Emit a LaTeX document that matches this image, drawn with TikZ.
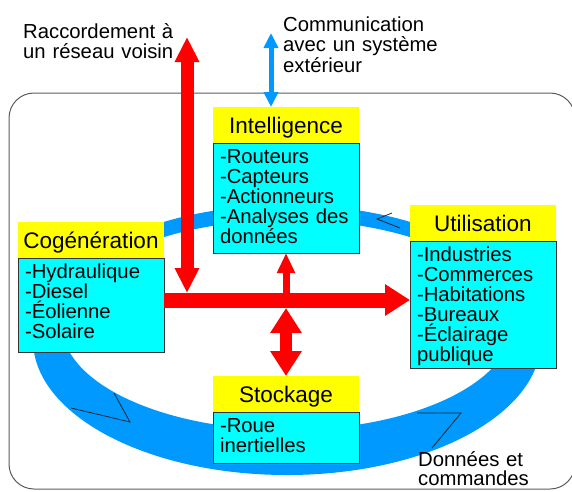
\documentclass[tikz,border=0pt]{standalone}
\usepackage{fontspec}
\setmainfont{Liberation Sans}
\usetikzlibrary{arrows.meta,positioning}
\definecolor{Jaune}{RGB}{255,255,0}
\definecolor{Turquoise}{RGB}{0,255,255}
\definecolor{Bleu}{RGB}{0,153,255}
\definecolor{Rouge}{RGB}{255,0,0}
\definecolor{Cadre}{RGB}{90,90,90}

\begin{document}
\begin{tikzpicture}[x=1pt,y=-1pt,
    titre/.style={fill=Jaune,minimum width=146pt,minimum height=36pt,inner sep=0pt,
      outer sep=0pt,text height=16pt,text depth=0pt,font=\fontsize{22.5}{24}\selectfont},
    liste/.style={fill=Turquoise,draw=black!80,line width=0.8pt,inner xsep=7pt,
      inner ysep=6pt,outer sep=0pt,text width=132pt,align=left,text height=14pt,
      font=\fontsize{20.3}{20}\selectfont},
    etiquette/.style={text width=180pt,align=left,inner sep=0pt,
      font=\fontsize{20.3}{20.5}\selectfont},
    fleche/.style={Rouge,line width=#1},
    marque/.style={black!85,line width=0.8pt}]
  \useasboundingbox (0,0) rectangle (572,491);

  % cadre et anneau des donnees
  \draw[Cadre,line width=1pt,rounded corners=25pt] (9,93) rectangle (575,489);
  \fill[Bleu,even odd rule] (287,340) ellipse [x radius=254,y radius=135]
    (287,325) ellipse [x radius=225,y radius=105];
  \draw[marque] (71,408) -- (130,422) -- (114,393);
  \draw[marque] (417,413) -- (461,413) -- (432,448);
  \draw[marque] (392,213) -- (377,219) -- (400,228);

  % les quatre blocs
  \node[titre,anchor=north west] (intel) at (213,107) {Intelligence};
  \node[liste,anchor=north west,text depth=84pt] (intelL) at (intel.south west)
    {-Routeurs\\-Capteurs\\-Actionneurs\\-Analyses des\\données};
  \node[titre,anchor=north west] (cogen) at (18,222) {Cogénération};
  \node[liste,anchor=north west,text depth=68pt] (cogenL) at (cogen.south west)
    {-Hydraulique\\-Diesel\\-Éolienne\\-Solaire};
  \node[titre,anchor=north west] (util) at (410,205) {Utilisation};
  \node[liste,anchor=north west,text depth=101pt] (utilL) at (util.south west)
    {-Industries\\-Commerces\\-Habitations\\-Bureaux\\-Éclairage\\publique};
  \node[titre,anchor=north west] (stock) at (213,376) {Stockage};
  \node[liste,anchor=north west,text depth=25pt] (stockL) at (stock.south west)
    {-Roue\\inertielles};

  % textes libres
  \node[etiquette,anchor=base west] (voisinT) at (23,38) {Raccordement à\\un réseau voisin};
  \node[etiquette,anchor=base west] (comT) at (283,31)
    {Communication\\avec un système\\extérieur};
  \node[etiquette,anchor=base west,font=\fontsize{20.3}{19.5}\selectfont] (donnees)
    at (418,466) {Données et\\commandes};

  \coordinate (voisin) at (187,37);
  \coordinate (com) at (271,33);
  \coordinate (jonction) at (286,300);

  % flux d'energie
  \draw[fleche=13pt,{Triangle[width=23pt,length=25pt]}-{Triangle[width=23pt,length=25pt]},
    shorten <=7pt] (voisin |- jonction) -- (voisin);
  \draw[fleche=15pt,-{Triangle[width=30pt,length=25pt]}]
    (cogenL.east |- jonction) -- (utilL.west |- jonction);
  \draw[fleche=7pt,-{Triangle[width=17pt,length=20pt]}] (jonction) -- (intelL.south);
  \draw[fleche=12pt,{Triangle[width=30pt,length=25pt]}-{Triangle[width=30pt,length=25pt]},
    shorten <=8pt] (jonction) -- (stock.north);

  % communication exterieure
  \draw[Bleu,line width=5pt,{Triangle[width=14pt,length=15pt]}-{Triangle[width=14pt,length=15pt]}]
    (com) -- (com |- intel.north);
\end{tikzpicture}
\end{document}
